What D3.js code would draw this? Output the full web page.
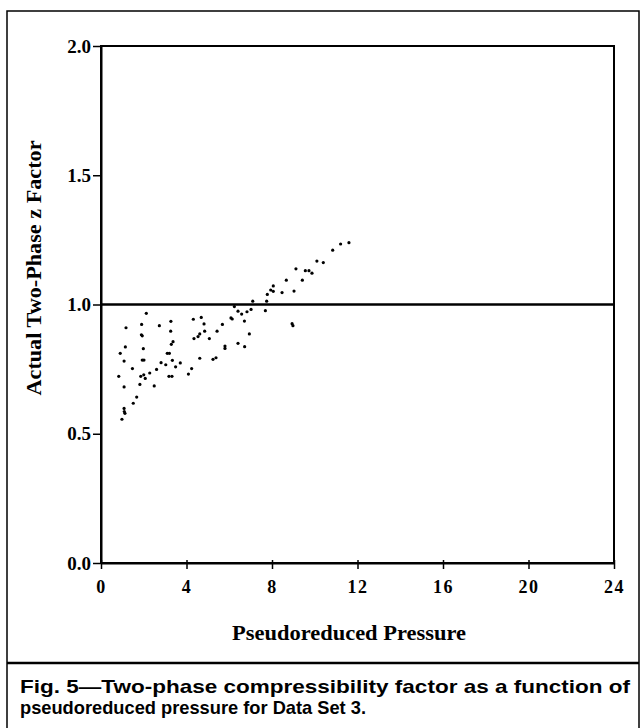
<!DOCTYPE html>
<html>
<head>
  <style>
    body, html { margin: 0; padding: 0; background: #fff; }
    svg { display: block; }
  </style>
</head>
<body>
  <svg id="svg" width="644" height="728"></svg>

  <script src="https://d3js.org/d3.v7.min.js"></script>
  <script>
    // pseudoreduced pressure (x) and actual two-phase z factor (y)
    const pressure = [
      0.83, 0.90, 0.98, 1.08, 1.09, 1.12, 1.08, 1.08, 1.14, 1.17,
      1.47, 1.51, 1.67, 1.82, 1.86, 2.00, 2.07, 1.90, 1.89, 1.93,
      1.98, 1.93, 2.01, 2.12, 2.28, 2.49, 2.60, 2.73, 2.81, 3.03,
      3.10, 3.20, 3.18, 3.32, 3.27, 3.26, 3.29, 3.37, 3.34, 3.49,
      3.71, 4.09, 4.24, 4.32, 4.35, 4.54, 4.62, 4.69, 4.82, 4.85,
      4.62, 5.07, 5.24, 5.38, 5.43, 5.68, 5.80, 5.80, 6.08, 6.14,
      6.24, 6.41, 6.58, 6.71, 6.83, 7.02, 6.94, 6.41, 6.72, 7.10,
      7.69, 7.75, 7.78, 7.94, 8.06, 8.06, 8.47, 8.67, 9.03, 9.12,
      9.42, 9.56, 9.73, 9.87, 10.10, 10.40, 10.84, 11.21, 11.60, 8.94,
      8.98
    ]
    const zFactor = [
      0.722, 0.811, 0.556, 0.598, 0.586, 0.579, 0.681, 0.781, 0.836, 0.910,
      0.752, 0.618, 0.642, 0.691, 0.722, 0.728, 0.714, 0.923, 0.883, 0.879,
      0.829, 0.785, 0.785, 0.966, 0.735, 0.685, 0.749, 0.918, 0.775, 0.767,
      0.811, 0.811, 0.722, 0.722, 0.935, 0.897, 0.846, 0.856, 0.784, 0.759,
      0.774, 0.731, 0.752, 0.943, 0.868, 0.876, 0.886, 0.950, 0.925, 0.897,
      0.792, 0.868, 0.788, 0.794, 0.897, 0.923, 0.839, 0.830, 0.948, 0.944,
      0.992, 0.974, 0.963, 0.936, 0.972, 0.981, 0.886, 0.850, 0.837, 1.013,
      0.976, 1.013, 1.039, 1.056, 1.051, 1.072, 1.046, 1.094, 1.052, 1.138,
      1.094, 1.131, 1.131, 1.121, 1.168, 1.162, 1.210, 1.234, 1.239, 0.926,
      0.918
    ]

    const xTicks = [0, 4, 8, 12, 16, 20, 24]
    const yTicks = [0.0, 0.5, 1.0, 1.5, 2.0]
    const refLine = 1.0

    const xTitle = "Pseudoreduced Pressure"
    const yTitle = "Actual Two-Phase z Factor"
    const caption = [
      "Fig. 5\u2014Two-phase compressibility factor as a function of",
      "pseudoreduced pressure for Data Set 3."
    ]

    const svg = d3.select("#svg")
    const serif = "'Liberation Serif', 'DejaVu Serif', serif"
    const sans = "'Liberation Sans', Arial, sans-serif"

    // outer figure frame and caption box
    svg.append("rect")
      .attr("x", 7).attr("y", 11)
      .attr("width", 632).attr("height", 730)
      .attr("fill", "none").attr("stroke", "#000").attr("stroke-width", 1.5)
    svg.append("line")
      .attr("x1", 7).attr("x2", 639)
      .attr("y1", 663).attr("y2", 663)
      .attr("stroke", "#000").attr("stroke-width", 2.5)

    const mLeft = 101, mRight = 614, mTop = 46, mBottom = 563

    const x = d3.scaleLinear().domain([0, 24]).range([mLeft, mRight])
    const y = d3.scaleLinear().domain([0, 2]).range([mBottom, mTop])

    const plot = svg.append("g")

    // plot frame
    plot.append("rect")
      .attr("x", mLeft).attr("y", mTop)
      .attr("width", mRight - mLeft).attr("height", mBottom - mTop)
      .attr("fill", "none").attr("stroke", "#000").attr("stroke-width", 2)

    // z = 1 reference line
    plot.append("line")
      .attr("x1", x(0)).attr("x2", x(24))
      .attr("y1", y(refLine)).attr("y2", y(refLine))
      .attr("stroke", "#000").attr("stroke-width", 2.5)

    const xAxis = d3.axisBottom(x).tickValues(xTicks).tickFormat(d3.format("d"))
      .tickSizeInner(6).tickSizeOuter(0).tickPadding(11)
    const gx = svg.append("g")
      .attr("transform", `translate(0, ${mBottom})`)
      .call(xAxis)
    gx.select(".domain").attr("stroke-width", 2)
    gx.selectAll(".tick line").attr("stroke-width", 1.5).attr("y1", -3)
    gx.selectAll(".tick text")
      .attr("font-family", serif).attr("font-weight", "bold")
      .attr("font-size", 18).attr("letter-spacing", 1.5).attr("fill", "#000")

    const yAxis = d3.axisLeft(y).tickValues(yTicks).tickFormat(d3.format(".1f"))
      .tickSizeInner(8).tickSizeOuter(0).tickPadding(2)
    const gy = svg.append("g")
      .attr("transform", `translate(${mLeft}, 0)`)
      .call(yAxis)
    gy.select(".domain").attr("stroke-width", 2)
    gy.selectAll(".tick line").attr("stroke-width", 1.5)
    gy.selectAll(".tick text")
      .attr("font-family", serif).attr("font-weight", "bold")
      .attr("font-size", 19).attr("fill", "#000")

    // data points
    plot.selectAll("circle")
      .data(pressure.map((p, i) => ({ p, z: zFactor[i] })))
      .join("circle")
      .attr("cx", d => x(d.p))
      .attr("cy", d => y(d.z))
      .attr("r", 1.6)
      .attr("fill", "#000")

    // axis titles
    svg.append("text")
      .attr("x", 349).attr("y", 640)
      .attr("text-anchor", "middle")
      .attr("font-family", serif).attr("font-weight", "bold")
      .attr("font-size", 20)
      .attr("textLength", 234).attr("lengthAdjust", "spacingAndGlyphs")
      .text(xTitle)

    svg.append("text")
      .attr("transform", "translate(41, 268) rotate(-90)")
      .attr("text-anchor", "middle")
      .attr("font-family", serif).attr("font-weight", "bold")
      .attr("font-size", 21)
      .attr("textLength", 255).attr("lengthAdjust", "spacingAndGlyphs")
      .text(yTitle)

    // caption
    const capLengths = [610, 346]
    svg.selectAll(".caption")
      .data(caption)
      .join("text")
      .attr("class", "caption")
      .attr("x", 20)
      .attr("y", (d, i) => 693 + i * 21)
      .attr("font-family", sans).attr("font-weight", "bold")
      .attr("font-size", 19)
      .attr("textLength", (d, i) => capLengths[i])
      .attr("lengthAdjust", "spacingAndGlyphs")
      .text(d => d)
  </script>
</body>
</html>
